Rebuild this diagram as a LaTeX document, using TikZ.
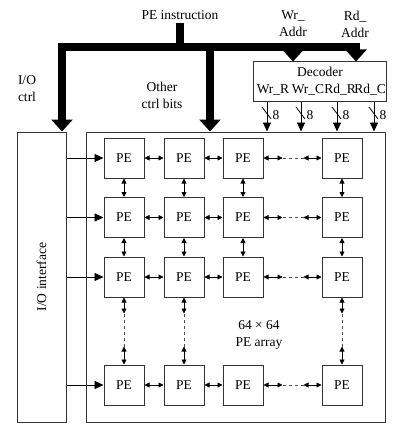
\documentclass[tikz,border=0pt]{standalone}
\usepackage{fontspec}
\setmainfont{Liberation Serif}
\usetikzlibrary{positioning,arrows.meta,calc}
\tikzset{every picture/.style={line width=0.8pt}}

\begin{document}
\begin{tikzpicture}[x=1pt, y=-1pt, font=\fontsize{13.5}{17}\selectfont,
    pe/.style={draw=black!80, line width=1pt, minimum width=40pt, minimum height=40pt, inner sep=0pt},
    blk/.style={draw=black!80, line width=1pt, inner sep=0pt},
    link/.style={{Triangle[length=5pt,width=5pt]}-{Triangle[length=5pt,width=5pt]}},
    feed/.style={-{Triangle[length=9pt,width=8pt]}},
    bus/.style={line width=7.5pt, -{Triangle[length=12pt,width=21pt]}}]
    \useasboundingbox (0,0) rectangle (403,433);

    % Main blocks
    \node[blk, minimum width=49pt, minimum height=290pt] (io) at (41.5,277) {};
    \node[rotate=90] (iotxt) at (io.center) {I/O interface};
    \node[blk, minimum width=299pt, minimum height=290pt] (arr) at (235.5,277) {};
    \node[blk, minimum width=133pt, minimum height=40pt] (dec) at (320,82) {};
    \node (dectxt) at (320,72) {Decoder};

    % Labels
    \node (pei) at (180,15) {PE instruction};
    \node[align=center] (wra) at (293,24) {Wr\_\\Addr};
    \node[align=center] (rda) at (355,24) {Rd\_\\Addr};
    \node[align=center] (ioc) at (27,89) {I/O\\ctrl};
    \node[align=center] (ocb) at (162,95) {Other\\ctrl bits};
    \node[align=center] (arrtxt) at (259,335) {64 × 64\\PE array};

    % Instruction bus
    \coordinate (bus-l) at (62,47);
    \coordinate (bus-m) at (210,47);
    \coordinate (bus-w) at (293,47);
    \coordinate (bus-r) at (356,47);
    \draw[line width=7.5pt] (pei.south) -- (pei.south |- bus-l);
    \draw[bus, {Triangle[length=12pt,width=21pt]}-{Triangle[length=12pt,width=21pt]}]
        (bus-l |- io.north) -- (bus-l) -- (bus-r) -- (bus-r |- dec.north);
    \draw[bus] (bus-m) -- (bus-m |- arr.north);
    \draw[bus] (bus-w) -- (bus-w |- dec.north);

    % Decoder outputs
    \foreach \x/\lx/\n/\t in {267/273/wr-r/Wr\_R, 301/308/wr-c/Wr\_C, 337/340/rd-r/Rd\_R, 374/370/rd-c/Rd\_C} {
        \node (l-\n) at (\lx,90) {\t};
        \coordinate (o-\n) at (\x,102);
        \draw[feed] (o-\n) -- (o-\n |- arr.north);
        \draw (\x-5,107) -- (\x+4,119);
        \node (w-\n) at (\x+9,115) {8};
    }

    % PE grid
    \foreach \r/\y in {1/158,2/217.5,3/277,4/385}
        \foreach \c/\x in {1/124,2/184,3/243,4/342}
            \node[pe] (p\r\c) at (\x,\y) {PE};

    % Row links and I/O feeds
    \foreach \r in {1,...,4} {
        \draw[link] (p\r1) -- (p\r2);
        \draw[link] (p\r2) -- (p\r3);
        \coordinate (ha\r) at ($(p\r3.east)+(19,0)$);
        \coordinate (hb\r) at ($(p\r4.west)+(-18,0)$);
        \draw[link] (p\r3) -- (ha\r);
        \draw[dashed, black!70] (ha\r) -- (hb\r);
        \draw[link] (hb\r) -- (p\r4);
        \draw[feed] (io.east |- p\r1) -- (p\r1);
    }

    % Column links
    \foreach \c in {1,...,4} {
        \draw[link] (p1\c) -- (p2\c);
        \draw[link] (p2\c) -- (p3\c);
    }
    \foreach \c in {1,2,4} {
        \coordinate (va\c) at ($(p3\c.south)+(0,16)$);
        \coordinate (vb\c) at ($(p4\c.north)+(0,-18)$);
        \draw[link] (p3\c) -- (va\c);
        \draw[dashed, black!70] (va\c) -- (vb\c);
        \draw[link] (vb\c) -- (p4\c);
    }
\end{tikzpicture}
\end{document}
